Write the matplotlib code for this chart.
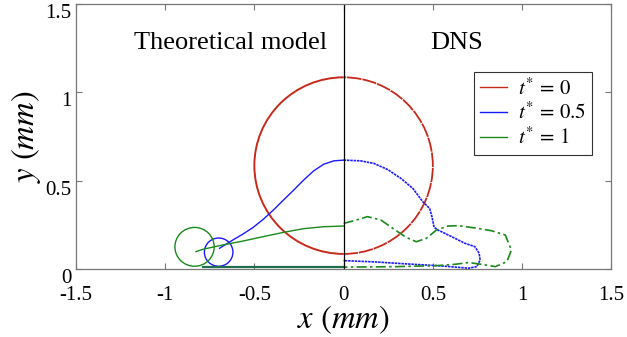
import matplotlib
matplotlib.use("Agg")
import matplotlib.pyplot as plt
import matplotlib.transforms as mtransforms
from matplotlib.patches import Arc, Circle

plt.rcParams['font.family'] = ['Liberation Serif', 'DejaVu Serif']
plt.rcParams['mathtext.fontset'] = 'stix'

# droplet at t*=0 (same in both halves)
drop0_center = (0.0, 0.585)
drop0_radius = 0.5

# theoretical model, t*=0.5
model05_x = [0.0, -0.055, -0.111, -0.168, -0.224, -0.28, -0.337, -0.394, -0.45,
             -0.507, -0.563, -0.62, -0.657, -0.695]
model05_y = [0.616, 0.612, 0.593, 0.555, 0.503, 0.446, 0.39, 0.333, 0.281,
             0.235, 0.198, 0.164, 0.141, 0.117]
model05_center = (-0.70, 0.095)
model05_radius = 0.08

# theoretical model, t*=1
model1_x = [0.0, -0.111, -0.224, -0.337, -0.45, -0.563, -0.676, -0.789, -0.827]
model1_y = [0.243, 0.239, 0.228, 0.207, 0.183, 0.158, 0.136, 0.111, 0.098]
model1_center = (-0.835, 0.125)
model1_radius = 0.11
model1_base_x = [-0.79, 0.0]
model1_base_y = [0.012, 0.012]

# DNS, t*=0.5
dns05_x = [0.0, 0.096, 0.171, 0.247, 0.322, 0.388, 0.444, 0.482, 0.495, 0.507,
           0.529, 0.605, 0.68, 0.736, 0.759, 0.765, 0.746, 0.699, 0.548, 0.36,
           0.171, 0.0]
dns05_y = [0.616, 0.612, 0.597, 0.563, 0.512, 0.456, 0.38, 0.343, 0.296, 0.236,
           0.22, 0.183, 0.145, 0.126, 0.089, 0.051, 0.013, 0.004, 0.017, 0.028,
           0.04, 0.047]

# DNS, t*=1
dns1_x = [0.0, 0.058, 0.134, 0.209, 0.284, 0.35, 0.407, 0.463, 0.52, 0.585, 0.642,
          0.736, 0.83, 0.906, 0.94, 0.915, 0.85, 0.774, 0.699, 0.623, 0.529,
          0.30, 0.0]
dns1_y = [0.258, 0.273, 0.296, 0.277, 0.224, 0.179, 0.154, 0.173, 0.22, 0.243, 0.245,
          0.232, 0.216, 0.192, 0.107, 0.041, 0.013, 0.026, 0.036, 0.026, 0.019,
          0.013, 0.01]

labels = [r'$t^{*}\,=\,0$', r'$t^{*}\,=\,0.5$', r'$t^{*}\,=\,1$']
colors = ['#c62a1a', '#1a1aff', '#1a8a1a']
xticks = [-1.5, -1, -0.5, 0, 0.5, 1, 1.5]
yticks = [0, 0.5, 1, 1.5]

fig = plt.figure(figsize=(6.27, 3.37), dpi=100)
ax = fig.add_axes([0.121, 0.202, 0.854, 0.786])

# t*=0 droplet: left half model (solid), right half DNS (dense dots)
ax.add_patch(Arc(drop0_center, 2 * drop0_radius, 2 * drop0_radius, theta1=90, theta2=270,
                 color=colors[0], lw=1.4))
ax.add_patch(Arc(drop0_center, 2 * drop0_radius, 2 * drop0_radius, theta1=-90, theta2=90,
                 color=colors[0], lw=1.3, ls=(0, (8, 0.5))))

ax.plot(model05_x, model05_y, color=colors[1], lw=1.0)
ax.add_patch(Circle(model05_center, model05_radius, fill=False, color=colors[1], lw=1.0))
ax.plot(dns05_x, dns05_y, color=colors[1], lw=1.2, ls=(0, (1.5, 0.5)))

ax.plot(model1_x, model1_y, color=colors[2], lw=1.0)
ax.add_patch(Circle(model1_center, model1_radius, fill=False, color=colors[2], lw=1.0))
ax.plot(model1_base_x, model1_base_y, color='#1f6f4f', lw=1.6)
ax.plot(dns1_x, dns1_y, color=colors[2], lw=1.2, ls=(0, (6, 2, 1.5, 2)))

ax.axvline(0, color='black', lw=0.9)

for lab, c in zip(labels, colors):
    ax.plot([], [], color=c, lw=1.0, label=lab)
leg = ax.legend(loc='upper right', bbox_to_anchor=(0.964, 0.743), fontsize=15,
                frameon=True, fancybox=False, edgecolor='black', handlelength=1.3,
                handletextpad=0.5, borderpad=0.3, labelspacing=0.15, borderaxespad=0)
leg.get_frame().set_linewidth(0.8)

ax.text(-0.633, 1.28, 'Theoretical model', ha='center', va='center', fontsize=19)
ax.text(0.633, 1.28, 'DNS', ha='center', va='center', fontsize=19)

ax.set_xlim(-1.5, 1.5)
ax.set_ylim(0, 1.5)
ax.set_xticks(xticks)
ax.set_xticklabels([f'{t:g}' for t in xticks])
ax.set_yticks(yticks)
ax.set_yticklabels([f'{t:g}' for t in yticks])
ax.tick_params(direction='in', top=True, right=True, length=4, labelsize=15,
               color='#777777')
ax.tick_params(axis='x', pad=12)
ax.tick_params(axis='y', pad=3)
shift = mtransforms.ScaledTranslation(0, -7 / 100, fig.dpi_scale_trans)
for lbl in ax.get_yticklabels():
    lbl.set_transform(lbl.get_transform() + shift)
for s in ax.spines.values():
    s.set_color('#777777')
    s.set_linewidth(0.9)

ax.set_xlabel(r'$x\ (mm)$', fontsize=23.5, labelpad=-1)
ax.set_ylabel(r'$y\ (mm)$', fontsize=23.5, labelpad=2)

fig.savefig('out.png', dpi=100)
